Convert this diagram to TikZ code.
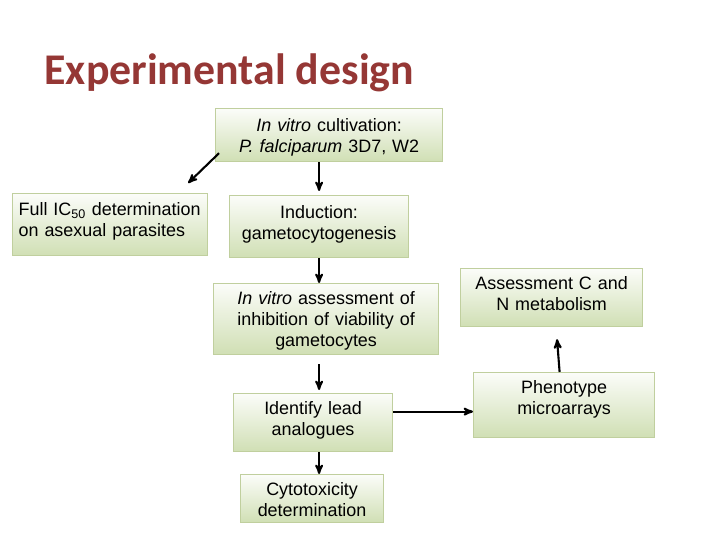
\documentclass[tikz,border=0pt]{standalone}
\usepackage{fontspec}
\usepackage{xcolor}
\usepackage{tikz}
\usetikzlibrary{arrows, positioning, calc}
\newfontfamily\boxfont{Liberation Sans}
\newfontfamily\titlefont{Carlito}
\definecolor{titlered}{RGB}{149,55,53}
\definecolor{boxgreen}{RGB}{208,223,180}
\definecolor{boxline}{RGB}{192,207,158}
\tikzset{
  stepbox/.style={draw=boxline, line width=1.2bp, top color=white!60!boxgreen!20,
                  bottom color=boxgreen, inner sep=0pt, anchor=north west,
                  align=center, font=\boxfont\fontsize{18}{21}\selectfont},
  arrow/.style={-stealth', line width=2.1bp, draw=black},
  heading/.style={anchor=base west, text=titlered,
                  font=\titlefont\bfseries\fontsize{44}{50}\selectfont},
}

\begin{document}
\begin{tikzpicture}[x=1bp, y=-1bp]
  \useasboundingbox (0,0) rectangle (720,540);

  % Title
  \node[heading] (title) at (41,85) {Experimental design};

  % Boxes
  \node[stepbox, text width=227bp, text height=23bp, text depth=30bp]
    (cult) at (215,108) {\textit{In vitro} cultivation:\\ \textit{P. falciparum} 3D7, W2};
  \node[stepbox, align=left, inner xsep=6bp, text width=183bp,
        text height=22bp, text depth=40bp]
    (ic50) at (12,193) {Full IC\textsubscript{50} determination\\ on asexual parasites};
  \node[stepbox, text width=179bp, text height=23bp, text depth=39bp]
    (induct) at (229,195) {Induction:\\ gametocytogenesis};
  \node[stepbox, text width=225bp, text height=21bp, text depth=50bp]
    (assess) at (213,283) {\textit{In vitro} assessment of\\ inhibition of viability of\\ gametocytes};
  \node[stepbox, text width=159bp, text height=21bp, text depth=37bp]
    (ident) at (233,393) {Identify lead\\ analogues};
  \node[stepbox, text width=143bp, text height=21bp, text depth=27bp]
    (cyto) at (240,474) {Cytotoxicity\\ determination};
  \node[stepbox, text width=182bp, text height=21bp, text depth=37bp]
    (cn) at (460,268) {Assessment C and\\ N metabolism};
  \node[stepbox, text width=181bp, text height=21bp, text depth=44bp]
    (pheno) at (473,372) {Phenotype\\ microarrays};

  % Arrows
  \draw[arrow] ([shift={(4,-9)}]cult.south west) -- ([shift={(-20,-10)}]ic50.north east);
  \draw[arrow, shorten >=4bp] (cult.south -| induct.north) -- (induct.north);
  \draw[arrow] (induct.south) -- (induct.south |- assess.north);
  \draw[arrow, shorten <=9bp, shorten >=3bp]
    (assess.south -| induct.south) -- (ident.north -| induct.south);
  \draw[arrow] (ident.south -| induct.south) -- (cyto.north -| induct.south);
  \draw[arrow] ([yshift=11bp]ident.east) -- ([yshift=11bp]ident.east -| pheno.west);
  \draw[arrow, shorten >=12bp] ([xshift=-4.5bp]pheno.north) -- ([xshift=4.5bp]cn.south);

\end{tikzpicture}
\end{document}
